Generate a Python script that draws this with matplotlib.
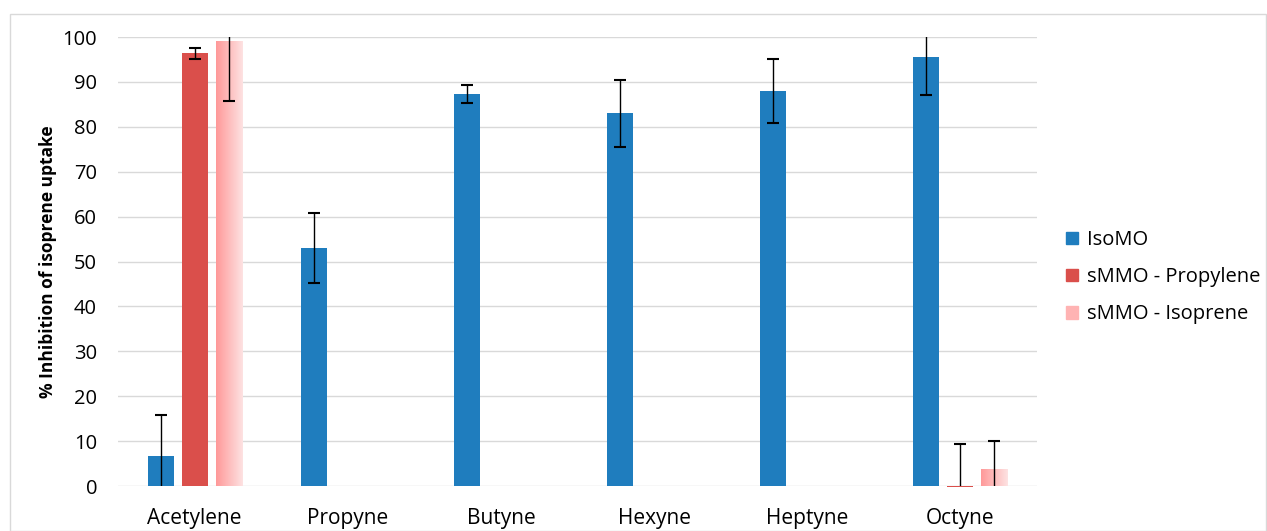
import matplotlib.pyplot as plt
import numpy as np
from matplotlib.patches import Rectangle, Patch
from matplotlib.colors import LinearSegmentedColormap

plt.rcParams['font.family'] = ['Open Sans', 'DejaVu Sans']

categories = ['Acetylene', 'Propyne', 'Butyne', 'Hexyne', 'Heptyne', 'Octyne']
series = ['IsoMO', 'sMMO - Propylene', 'sMMO - Isoprene']

isomo = [6.7, 53.0, 87.3, 83.0, 88.0, 95.5]
isomo_err = [9.2, 7.8, 2.0, 7.4, 7.2, 8.4]
smmo_prop = [96.4, np.nan, np.nan, np.nan, np.nan, -0.3]
smmo_prop_err = [1.2, np.nan, np.nan, np.nan, np.nan, 9.6]
smmo_iso = [99.1, np.nan, np.nan, np.nan, np.nan, 3.7]
smmo_iso_err = [13.4, np.nan, np.nan, np.nan, np.nan, 6.3]

blue = '#1F7DBE'
red = '#DA4F4B'
pink_cmap = LinearSegmentedColormap.from_list('pk', ['#FF9999', '#FDE2E2'])

fig = plt.figure(figsize=(12.67, 5.31), dpi=100)
fig.patches.append(Rectangle((10 / 1267, 0), 1 - 10 / 1267 - 0.001, 1 - 14 / 531,
                             transform=fig.transFigure, fill=False,
                             edgecolor='#D9D9D9', linewidth=1))
ax = fig.add_axes([0.0931, 0.0847, 0.7254, 0.8456])

x = np.arange(len(categories))
w = 0.17
off = 0.222

ax.bar(x - off, isomo, w, color=blue, label=series[0], zorder=2)
bars_r = ax.bar(x, smmo_prop, w, color=red, label=series[1], zorder=2)
for b in bars_r:
    b.set_clip_on(False)
bars_p = ax.bar(x + off, smmo_iso, w, color='none', label=series[2], zorder=2)

# gradient fill for the isoprene bars
grad = np.linspace(0, 1, 64).reshape(1, -1)
for b in bars_p:
    h = b.get_height()
    if np.isnan(h):
        continue
    x0 = b.get_x()
    ax.imshow(grad, cmap=pink_cmap, aspect='auto', zorder=2,
              extent=[x0, x0 + w, 0, h])

ekw = dict(fmt='none', ecolor='black', elinewidth=1, capsize=4, capthick=1.5, zorder=3)
ax.errorbar(x - off, isomo, yerr=isomo_err, **ekw)
ax.errorbar(x, smmo_prop, yerr=smmo_prop_err, **ekw)
ax.errorbar(x + off, smmo_iso, yerr=smmo_iso_err, **ekw)

ax.set_xlim(-0.5, len(categories) - 0.5)
ax.set_ylim(0, 100)
ax.set_yticks(np.arange(0, 101, 10))
ax.set_xticks(x)
ax.set_xticklabels(categories, fontsize=15)
ax.tick_params(axis='y', labelsize=14.5, length=0, pad=15)
ax.tick_params(axis='x', length=0, pad=16)
ax.yaxis.grid(True, color='#D9D9D9', linewidth=1)
ax.set_axisbelow(True)
for s in ax.spines.values():
    s.set_visible(False)
ax.set_ylabel('% Inhibition of isoprene uptake', fontsize=12.5, fontweight='bold', labelpad=4)

handles = [Patch(color=blue), Patch(color=red), Patch(color='#FFB3B3')]
fig.legend(handles, series, loc='center left', bbox_to_anchor=(0.827, 0.478),
           frameon=False, fontsize=14.5, handlelength=0.6, handleheight=0.6,
           handletextpad=0.45, labelspacing=0.85)

fig.savefig('out.png', dpi=100)
